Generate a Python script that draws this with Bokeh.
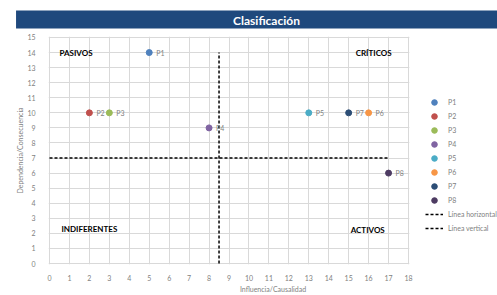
from bokeh.plotting import figure
from bokeh.models import (Legend, LegendItem, ColumnDataSource, FixedTicker, Range1d,
                          Title, BoxAnnotation)
from bokeh.core.properties import value
from bokeh.embed import file_html
from bokeh.resources import INLINE

# ---- data ----
puntos = ["P1", "P2", "P3", "P4", "P5", "P6", "P7", "P8"]
influencia = [5, 2, 3, 8, 13, 16, 15, 17]
dependencia = [14, 10, 10, 9, 10, 10, 10, 6]
colores = ["#4F81BD", "#C0504D", "#9BBB59", "#8064A2", "#4BACC6", "#F79646", "#2C4D75", "#4D3B62"]

linea_h_x = [0, 17]
linea_h_y = [7, 7]
linea_v_x = [8.5, 8.5]
linea_v_y = [0, 14]

cuadrantes = ["PASIVOS", "CRÍTICOS", "INDIFERENTES", "ACTIVOS"]
cuadrante_x = [0.5, 15.35, 0.6, 15.1]
cuadrante_y = [14.0, 14.0, 2.3, 2.2]

titulo = "Clasificación"

x_ticks = list(range(0, 19))
y_ticks = list(range(0, 16))

FONT = "Lato"
GRAY = "#7F7F7F"
BLUE = "#1F497D"

# frame: x 48..497, y 36..265 ; 0..18 -> 49..408 ; 0..15 -> 264..37
sx = 359 / 18
sy = 227 / 15
x0 = -1 / sx
y0 = -1 / sy

p = figure(width=497, height=295, output_backend="svg", toolbar_location=None,
           x_range=Range1d(x0, x0 + 449 / sx), y_range=Range1d(y0, y0 + 229 / sy),
           min_border_left=48, min_border_right=0, min_border_top=36, min_border_bottom=30)

p.title = Title(text=titulo, align="center", text_color="white",
                background_fill_color=BLUE, text_font_size="12px",
                text_font_style="bold", text_font=FONT,
                padding=dict(left=217, right=230, top=2, bottom=1),
                standoff=16, offset=-22)

p.outline_line_color = None
for g in (p.xgrid, p.ygrid):
    g.grid_line_color = "#D9D9D9"
    g.grid_line_width = 1
p.xaxis.ticker = FixedTicker(ticks=x_ticks)
p.yaxis.ticker = FixedTicker(ticks=y_ticks)
p.xgrid.ticker = FixedTicker(ticks=x_ticks)
p.ygrid.ticker = FixedTicker(ticks=y_ticks)
p.xaxis.bounds = (0, 18)
p.yaxis.bounds = (0, 15)
for ax in (p.xaxis, p.yaxis):
    ax.axis_line_color = None
    ax.major_tick_line_color = None
    ax.minor_tick_line_color = None
    ax.major_label_text_font_size = "7px"
    ax.major_label_text_color = GRAY
    ax.major_label_text_font = FONT
    ax.axis_label_text_font_size = "7px"
    ax.axis_label_text_color = GRAY
    ax.axis_label_text_font = FONT
    ax.axis_label_text_font_style = "normal"
p.xaxis.axis_label = "Influencia/Causalidad"
p.yaxis.axis_label = "Dependencia/Consecuencia"
p.xaxis.major_label_standoff = 4
p.yaxis.major_label_standoff = 7
p.xaxis.axis_label_standoff = 1
p.yaxis.axis_label_standoff = 0

# white cover for grid lines right of the plot area (legend zone)
p.add_layout(BoxAnnotation(left=18.04, fill_color="white", fill_alpha=1,
                           line_color=None))

items = []
for n, x, y, c in zip(puntos, influencia, dependencia, colores):
    r = p.scatter([x], [y], size=6, color=c, line_color=c)
    items.append(LegendItem(label=n, renderers=[r]))

rh = p.line(linea_h_x, linea_h_y, line_color="black", line_width=1.5, line_dash="3 2")
rv = p.line(linea_v_x, linea_v_y, line_color="black", line_width=1.5, line_dash="3 2")
items.append(LegendItem(label="Línea horizontal", renderers=[rh]))
items.append(LegendItem(label="Línea vertical", renderers=[rv]))

src = ColumnDataSource(dict(x=influencia, y=dependencia, t=puntos))
p.text(x="x", y="y", text="t", source=src, x_offset=7, text_baseline="middle",
       text_font_size="7px", text_color=GRAY, text_font=value(FONT))

qsrc = ColumnDataSource(dict(x=cuadrante_x, y=cuadrante_y, t=cuadrantes))
p.text(x="x", y="y", text="t", source=qsrc, text_baseline="middle",
       text_font_size="8px", text_font_style="bold", text_color="black",
       text_font=value(FONT))

legend = Legend(items=items, location=(377, 29), padding=0, margin=0, spacing=0,
                border_line_color=None, background_fill_alpha=0,
                label_text_font_size="7px", label_text_color=GRAY, label_text_font=FONT,
                label_height=14, glyph_height=14, glyph_width=18, label_standoff=5)
p.add_layout(legend)

open("out.html", "w").write(file_html(p, INLINE))
